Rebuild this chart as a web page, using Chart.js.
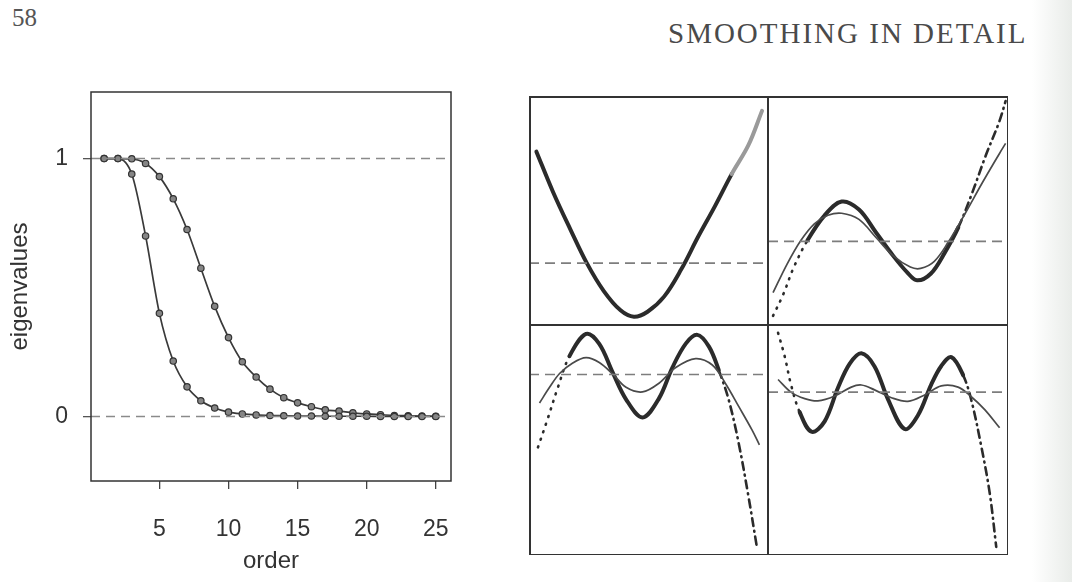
<!DOCTYPE html>
<html>
<head>
<meta charset="utf-8">
<script src="https://cdn.jsdelivr.net/npm/chart.js@4.4.1/dist/chart.umd.min.js"></script>
<style>
html, body { margin: 0; padding: 0; background: #fff; }
body { width: 1072px; height: 582px; position: relative; overflow: hidden; font-family: "Liberation Sans", Arial, sans-serif; }
#pageNum { position: absolute; left: 12px; top: 5px; font: 25px/25px "Liberation Serif", serif; color: #555; }
#runHead { position: absolute; left: 668px; top: 19px; font: 29px/29px "Liberation Serif", serif; color: #4a4a4a; letter-spacing: 2px; white-space: nowrap; }
#gutter { position: absolute; left: 1032px; top: 0; width: 40px; height: 582px; background: linear-gradient(to right, rgba(235,238,235,0), #e9ece9); }
#left { position: absolute; left: 0; top: 0; }
#grid { position: absolute; left: 529px; top: 96px; width: 479px; height: 459px; }
#grid canvas { position: absolute; }
.line { position: absolute; background: #333; }
</style>
</head>
<body>
<div id="gutter"></div>
<div id="pageNum">58</div>
<div id="runHead">SMOOTHING IN DETAIL</div>
<canvas id="left" width="480" height="582"></canvas>
<div id="grid">
  <canvas id="p1" width="239" height="229" style="left:0;top:0"></canvas>
  <canvas id="p2" width="240" height="229" style="left:239px;top:0"></canvas>
  <canvas id="p3" width="239" height="230" style="left:0;top:229px"></canvas>
  <canvas id="p4" width="240" height="230" style="left:239px;top:229px"></canvas>
  <div class="line" style="left:0;top:0;width:479px;height:1.5px"></div>
  <div class="line" style="left:0;bottom:0;width:479px;height:1.5px"></div>
  <div class="line" style="left:0;top:0;width:1.5px;height:459px"></div>
  <div class="line" style="right:0;top:0;width:1.5px;height:459px"></div>
  <div class="line" style="left:238px;top:0;width:1.5px;height:459px"></div>
  <div class="line" style="left:0;top:228px;width:479px;height:1.5px"></div>
</div>
<script>
// left plot: eigenvalues of two smoothers against order
const order = [1,2,3,4,5,6,7,8,9,10,11,12,13,14,15,16,17,18,19,20,21,22,23,24,25];
const eigSteep = [1.0,1.0,0.94,0.70,0.40,0.215,0.115,0.061,0.033,0.017,0.010,0.006,0.004,0.003,0.002,0.002,0.001,0.001,0.001,0.001,0.0,0.0,0.0,0.0,0.0];
const eigSlow = [1.0,1.0,0.999,0.981,0.93,0.844,0.725,0.575,0.427,0.306,0.212,0.153,0.106,0.073,0.053,0.038,0.026,0.021,0.014,0.010,0.007,0.004,0.003,0.002,0.001];
const refLevels = [0, 1];
const xTicks = [5, 10, 15, 20, 25];
const yTicks = [0, 1];
const xMin = 0.05, xMax = 26.1;

// right panels: eigenvectors (thick) and smoothed versions (thin), local 0..100 units
const tlThickX = [3.1,10.1,17.2,24.2,31.3,38.3,43.9,49.6,56.6,63.7,70.7,77.7,84.8,91.8,97.5];
const tlThickY = [75.7,58.0,42.0,27.0,14.8,6.4,3.6,5.8,12.5,24.3,38.4,51.7,65.9,78.5,93.5];
const tlLevel = 27;

const trThickX = [2.1,6.4,10.7,16.4,23.6,30.7,37.9,45.0,52.1,57.9,62.1,67.9,73.6,79.3,85.0,90.7,96.4,99.0];
const trThickY = [4.0,13.5,25.1,36.9,47.9,53.9,50.4,40.4,30.3,23.1,19.5,22.5,31.5,42.6,57.5,73.9,88.9,97.8];
const trThinX = [2.1,7.9,13.6,19.3,25.0,30.7,37.9,45.0,52.1,59.3,63.6,69.3,75.0,82.1,89.3,96.4,99.0];
const trThinY = [14.1,26.5,36.8,44.2,47.9,48.8,46.1,38.2,30.3,25.3,24.7,27.8,36.0,48.6,62.1,74.8,79.3];
const trLevel = 36.5;

const blThickX = [3.75,7.9,12.1,16.9,23.9,29.4,35.0,40.6,47.5,54.4,60.0,65.6,70.4,75.3,79.4,83.6,87.8,91.9,95.4];
const blThickY = [46.8,59.5,72.9,86.4,96.1,91.8,79.4,67.7,59.8,68.1,81.5,91.9,95.7,90.6,80.4,67.3,48.3,25.0,3.1];
const blThinX = [4.4,8.6,12.8,18.3,23.9,29.4,35.0,40.6,47.5,54.4,61.4,69.7,76.7,82.2,87.8,93.3,96.4];
const blThinY = [66.1,72.9,78.9,83.5,85.8,83.7,78.7,72.9,70.9,74.7,81.5,85.4,82.6,74.6,64.5,54.4,47.9];
const blLevel = 78.5;

const brThickX = [4.2,6.9,9.7,13.2,18.1,23.6,29.2,34.0,38.9,44.4,50.0,56.9,62.5,68.0,72.2,76.4,81.3,84.7,88.9,92.4,95.1];
const brThickY = [96.6,86.6,73.6,62.1,53.6,58.1,72.8,83.1,87.7,82.0,67.7,54.8,60.8,74.1,82.2,86.0,78.2,67.4,47.1,26.8,3.5];
const brThinX = [4.2,9.7,15.3,20.8,27.8,34.7,38.9,44.4,51.4,58.3,65.3,72.2,79.2,84.7,90.3,96.5];
const brThinY = [76.3,70.7,68.0,67.0,69.1,73.0,73.9,71.8,68.4,66.8,69.6,73.5,73.0,68.8,63.2,55.3];
const brLevel = 70.8;

const pts = (xs, ys) => xs.map((x, i) => ({ x: x, y: ys[i] }));

const frame = {
    id: 'frame',
    afterDatasetsDraw(chart) {
        const { ctx, chartArea: a } = chart;
        ctx.save();
        ctx.strokeStyle = '#333';
        ctx.lineWidth = 1.5;
        ctx.strokeRect(a.left, a.top, a.right - a.left, a.bottom - a.top);
        ctx.restore();
    }
};

const axisFont = { family: '"Liberation Sans", Arial, sans-serif', size: 23 };

new Chart(document.getElementById('left'), {
    type: 'line',
    data: {
        datasets: [
            ...refLevels.map(v => ({
                data: [{ x: xMin, y: v }, { x: xMax, y: v }],
                borderColor: '#8a8a8a', borderWidth: 1.5, borderDash: [9, 6], pointRadius: 0
            })),
            {
                data: pts(order, eigSteep),
                borderColor: '#3a3a3a', borderWidth: 1.7, cubicInterpolationMode: 'monotone',
                pointRadius: 3.2, pointBackgroundColor: '#858585', pointBorderColor: '#333', pointBorderWidth: 1.2
            },
            {
                data: pts(order, eigSlow),
                borderColor: '#3a3a3a', borderWidth: 1.7, cubicInterpolationMode: 'monotone',
                pointRadius: 3.2, pointBackgroundColor: '#858585', pointBorderColor: '#333', pointBorderWidth: 1.2
            }
        ]
    },
    options: {
        responsive: false,
        animation: false,
        layout: { padding: { top: 92, right: 29, left: 0, bottom: 0 } },
        plugins: { legend: { display: false }, tooltip: { enabled: false } },
        scales: {
            x: {
                type: 'linear', min: xMin, max: xMax,
                afterBuildTicks: s => { s.ticks = xTicks.map(v => ({ value: v })); },
                afterFit: s => { s.height = 101; },
                ticks: { font: axisFont, color: '#333', padding: 27, maxRotation: 0 },
                grid: { drawOnChartArea: false, tickLength: 8, color: '#444', lineWidth: 1.3 },
                border: { display: false },
                title: { display: true, text: 'order', font: { family: axisFont.family, size: 24 }, color: '#333', padding: { top: 0, bottom: 6 } }
            },
            y: {
                type: 'linear', min: -0.25, max: 1.258,
                afterBuildTicks: s => { s.ticks = yTicks.map(v => ({ value: v })); },
                afterFit: s => { s.width = 91; },
                ticks: { font: axisFont, color: '#333', padding: 15 },
                grid: { drawOnChartArea: false, tickLength: 8, color: '#555', lineWidth: 1.3 },
                border: { display: false },
                title: { display: true, text: 'eigenvalues', font: { family: axisFont.family, size: 24 }, color: '#333', padding: { top: 6, bottom: 0 } }
            }
        }
    },
    plugins: [frame]
});

function panel(id, thick, thin, level, dotEnd, dashStart, greyFrom) {
    const datasets = [{
        data: [{ x: 0, y: level }, { x: 100, y: level }],
        borderColor: '#7d7d7d', borderWidth: 1.6, borderDash: [10, 6], pointRadius: 0
    }];
    if (thin) {
        datasets.push({
            data: thin, borderColor: '#4a4a4a', borderWidth: 1.7,
            tension: 0.35, pointRadius: 0
        });
    }
    datasets.push({
        data: thick, borderColor: '#2b2b2b', borderWidth: 4, borderCapStyle: 'round',
        tension: 0.35, pointRadius: 0,
        segment: {
            borderDash: c => c.p1.parsed.x <= dotEnd ? [1, 7] : (c.p0.parsed.x >= dashStart ? [8, 5, 1, 5] : undefined),
            borderWidth: c => (c.p1.parsed.x <= dotEnd || c.p0.parsed.x >= dashStart) ? 2.6 : undefined,
            borderColor: c => (greyFrom !== null && c.p0.parsed.x >= greyFrom) ? '#9a9a9a' : undefined
        }
    });
    new Chart(document.getElementById(id), {
        type: 'line',
        data: { datasets: datasets },
        options: {
            responsive: false,
            animation: false,
            layout: { padding: 0 },
            plugins: { legend: { display: false }, tooltip: { enabled: false } },
            scales: {
                x: { type: 'linear', min: 0, max: 100, display: false },
                y: { type: 'linear', min: 0, max: 100, display: false }
            }
        }
    });
}

panel('p1', pts(tlThickX, tlThickY), null, tlLevel, -1, 101, 84);
panel('p2', pts(trThickX, trThickY), pts(trThinX, trThinY), trLevel, 16.4, 79.3, null);
panel('p3', pts(blThickX, blThickY), pts(blThinX, blThinY), blLevel, 16.9, 79.4, null);
panel('p4', pts(brThickX, brThickY), pts(brThinX, brThinY), brLevel, 13.2, 81.3, null);
</script>
</body>
</html>
